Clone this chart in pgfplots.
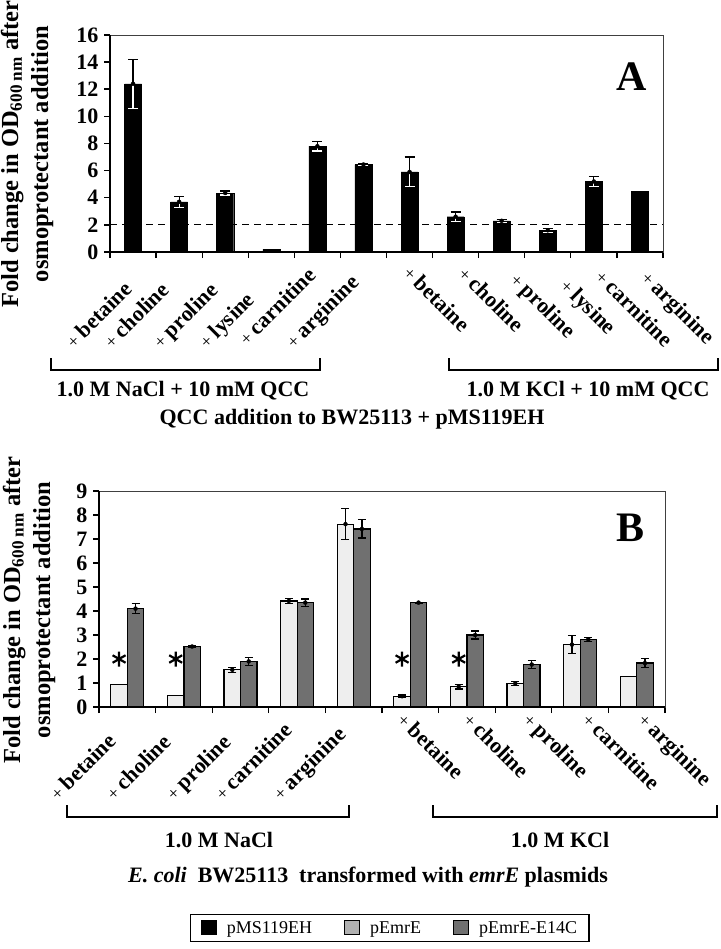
\documentclass[border=0pt]{standalone}
\usepackage{pgfplots}
\usepackage{pgfplotstable}
\pgfplotsset{compat=1.18}
\usepackage{fontspec}
\setmainfont{Liberation Serif}
\definecolor{lightbar}{HTML}{EEEEEE}
\definecolor{darkbar}{HTML}{707070}
\definecolor{leglight}{HTML}{B0B0B0}
\newcommand\fs[1]{\fontsize{#1}{#1}\selectfont}
\newcommand\cl[1]{{\mdseries\fs{18}+}\hspace{5pt}#1}

\pgfplotsset{
  myaxis/.style={
    scale only axis, clip=false,
    tick align=outside, xtick pos=bottom, ytick pos=left,
    major tick length=6pt,
    xtick style={black, line width=1.2pt},
    ytick style={black, line width=1.5pt},
    axis line style={line width=0.8pt, black!75},
    xticklabels={},
    yticklabel style={font=\bfseries\fs{22}, xshift=-2pt},
    /pgf/number format/assume math mode=true,
  },
  swatch/.style={legend image code/.code={\draw[##1, line width=1pt] (0pt,-7pt) rectangle (15pt,7pt);}},
  error bars/errA/.style={error bar style={line width=1.2pt, #1},
    error mark options={rotate=90, mark size=5pt, line width=1.2pt, #1}},
  error bars/errB/.style={error bar style={line width=1.2pt, black},
    error mark options={rotate=90, mark size=4pt, line width=1.2pt, black}},
}

\pgfplotstableread{
x y e
1 12.4 1.8
2 3.7 0.4
3 4.35 0.15
4 0.2 0
5 7.8 0.35
6 6.45 0.1
7 5.9 1.1
8 2.6 0.35
9 2.3 0.1
10 1.6 0.15
11 5.2 0.35
12 4.45 0
}\dataA

\pgfplotstableread{
x y e
1 12.4 1.8
2 3.7 0.4
3 4.35 0.15
5 7.8 0.35
6 6.45 0.1
7 5.9 1.1
8 2.6 0.35
9 2.3 0.1
10 1.6 0.15
11 5.2 0.35
}\dataAerr

\pgfplotstableread{
x y e
1 0.95 0
2 0.47 0
3 1.55 0.1
4 4.42 0.1
5 7.62 0.65
6 0.45 0.05
7 0.85 0.1
8 0.98 0.08
9 2.6 0.38
10 1.28 0
}\dataBlight

\pgfplotstableread{
x y e
3 1.55 0.1
4 4.42 0.1
5 7.62 0.65
6 0.45 0.05
7 0.85 0.1
8 0.98 0.08
9 2.6 0.38
}\dataBlighterr

\pgfplotstableread{
x y e
1 4.1 0.22
2 2.52 0.04
3 1.9 0.17
4 4.35 0.15
5 7.42 0.38
6 4.35 0.02
7 3.0 0.17
8 1.77 0.16
9 2.82 0.08
10 1.83 0.2
}\dataBdark

\begin{document}
\begin{tikzpicture}
\useasboundingbox (0pt,0pt) rectangle (720pt,-949pt);

% ---------------- Panel A ----------------
\begin{axis}[myaxis,
  at={(110pt,-252pt)}, anchor=south west,
  width=553pt, height=217pt,
  xmin=0.5, xmax=12.5, ymin=0, ymax=16,
  ytick={0,2,...,16},
  xtick={0.5,1.5,...,12.5},
]
\addplot[black, line width=1.2pt, dash pattern=on 7pt off 5pt, forget plot] coordinates {(0.5,2) (12.5,2)};
\addplot[ybar, bar width=0.37, fill=black, draw=black, forget plot,
  error bars/.cd, y dir=plus, y explicit, errA=black]
  table[x=x, y=y, y error=e] {\dataA};
\addplot[only marks, mark=none, forget plot,
  error bars/.cd, y dir=minus, y explicit, errA=white]
  table[x=x, y=y, y error=e] {\dataAerr};
\draw[line width=2pt, black] (rel axis cs:0,1) -- (rel axis cs:0,0) -- (rel axis cs:1,0);
\end{axis}

\node[font=\bfseries\fs{42}] at (632pt,-77pt) {A};

% category labels A
\begin{scope}[every node/.style={font=\bfseries\fs{22}, inner sep=0pt}]
\node[rotate=45, anchor=base west] at (74pt,-350pt) {\cl{betaine}};
\node[rotate=45, anchor=base west] at (112pt,-350pt) {\cl{choline}};
\node[rotate=45, anchor=base west] at (161pt,-350pt) {\cl{proline}};
\node[rotate=45, anchor=base west] at (207pt,-350pt) {\cl{lysine}};
\node[rotate=45, anchor=base west] at (247pt,-347pt) {\cl{carnitine}};
\node[rotate=45, anchor=base west] at (294pt,-350pt) {\cl{arginine}};
\node[rotate=-45, anchor=base west] at (402pt,-274pt) {\cl{betaine}};
\node[rotate=-45, anchor=base west] at (457pt,-275pt) {\cl{choline}};
\node[rotate=-45, anchor=base west] at (509pt,-281pt) {\cl{proline}};
\node[rotate=-45, anchor=base west] at (559pt,-287pt) {\cl{lysine}};
\node[rotate=-45, anchor=base west] at (594pt,-278pt) {\cl{carnitine}};
\node[rotate=-45, anchor=base west] at (640pt,-279pt) {\cl{arginine}};
\end{scope}

\draw[line width=1.5pt] (51pt,-358pt) -- (51pt,-370pt) -- (320pt,-370pt) -- (320pt,-358pt);
\draw[line width=1.5pt] (449pt,-358pt) -- (449pt,-370pt) -- (718pt,-370pt) -- (718pt,-358pt);
\node[font=\bfseries\fs{22}] at (183pt,-391pt) {1.0 M NaCl + 10 mM QCC};
\node[font=\bfseries\fs{22}] at (588pt,-391pt) {1.0 M KCl + 10 mM QCC};
\node[font=\bfseries\fs{22}] at (352pt,-419pt) {QCC addition to BW25113 + pMS119EH};

\node[rotate=90, align=center, font=\bfseries\fontsize{24.5}{30}\selectfont, inner sep=0pt] at (27pt,-154pt)
  {Fold change in OD\textsubscript{600 nm} after\\osmoprotectant addition};

% ---------------- Panel B ----------------
\begin{axis}[myaxis,
  at={(99pt,-707pt)}, anchor=south west,
  width=566pt, height=216pt,
  xmin=0.5, xmax=10.5, ymin=0, ymax=9,
  ytick={0,1,...,9},
  xtick={0.5,1.5,...,10.5},
  legend style={at={(axis description cs:0.514,-1.023)}, anchor=center,
    legend columns=3, font=\fs{18}, draw=black, line width=1.2pt,
    inner xsep=10pt, inner ysep=5pt,
    /tikz/every odd column/.append style={column sep=8pt},
    /tikz/every even column/.append style={column sep=30pt}},
]
\addplot[ybar, bar width=0.29, bar shift=-0.145, fill=lightbar, draw=black, line width=1.2pt, forget plot]
  table[x=x, y=y] {\dataBlight};
\addplot[ybar, bar width=0.29, bar shift=0.145, fill=darkbar, draw=black, line width=1.2pt, forget plot]
  table[x=x, y=y] {\dataBdark};
\addplot[only marks, mark=none, forget plot,
  error bars/.cd, y dir=both, y explicit, errB]
  table[x expr=\thisrow{x}-0.145, y=y, y error=e] {\dataBlighterr};
\addplot[only marks, mark=none, forget plot,
  error bars/.cd, y dir=both, y explicit, errB]
  table[x expr=\thisrow{x}+0.145, y=y, y error=e] {\dataBdark};
% significance asterisks
\addplot[only marks, mark=asterisk, mark size=7.5pt, line width=2.2pt, black, forget plot]
  coordinates {(0.855,2.0) (1.855,2.0) (5.855,2.0) (6.855,2.0)};
\draw[line width=2pt, black] (rel axis cs:0,1) -- (rel axis cs:0,0) -- (rel axis cs:1,0);
\addlegendimage{swatch, fill=black, draw=black}
\addlegendentry{pMS119EH}
\addlegendimage{swatch, fill=leglight, draw=black}
\addlegendentry{pEmrE}
\addlegendimage{swatch, fill=darkbar, draw=black}
\addlegendentry{pEmrE-E14C}
\end{axis}

\node[font=\bfseries\fs{42}] at (630pt,-528pt) {B};

\begin{scope}[every node/.style={font=\bfseries\fs{22}, inner sep=0pt}]
\node[rotate=45, anchor=base west] at (58pt,-802pt) {\cl{betaine}};
\node[rotate=45, anchor=base west] at (114pt,-802pt) {\cl{choline}};
\node[rotate=45, anchor=base west] at (174pt,-802pt) {\cl{proline}};
\node[rotate=45, anchor=base west] at (223pt,-802pt) {\cl{carnitine}};
\node[rotate=45, anchor=base west] at (281pt,-802pt) {\cl{arginine}};
\node[rotate=-45, anchor=base west] at (396pt,-721pt) {\cl{betaine}};
\node[rotate=-45, anchor=base west] at (462pt,-721pt) {\cl{choline}};
\node[rotate=-45, anchor=base west] at (522pt,-721pt) {\cl{proline}};
\node[rotate=-45, anchor=base west] at (581pt,-721pt) {\cl{carnitine}};
\node[rotate=-45, anchor=base west] at (637pt,-721pt) {\cl{arginine}};
\end{scope}

\draw[line width=1.5pt] (67pt,-805pt) -- (67pt,-817pt) -- (349pt,-817pt) -- (349pt,-805pt);
\draw[line width=1.5pt] (433pt,-805pt) -- (433pt,-817pt) -- (717pt,-817pt) -- (717pt,-805pt);
\node[font=\bfseries\fs{22}] at (219pt,-840pt) {1.0 M NaCl};
\node[font=\bfseries\fs{22}] at (560pt,-840pt) {1.0 M KCl};
\node[font=\bfseries\fs{22}] at (368pt,-877pt) {\textit{E. coli}\ \ BW25113\ \ transformed with \textit{emrE} plasmids};

\node[rotate=90, align=center, font=\bfseries\fontsize{24.5}{30}\selectfont, inner sep=0pt] at (29pt,-610pt)
  {Fold change in OD\textsubscript{600 nm} after\\osmoprotectant addition};
\end{tikzpicture}
\end{document}
